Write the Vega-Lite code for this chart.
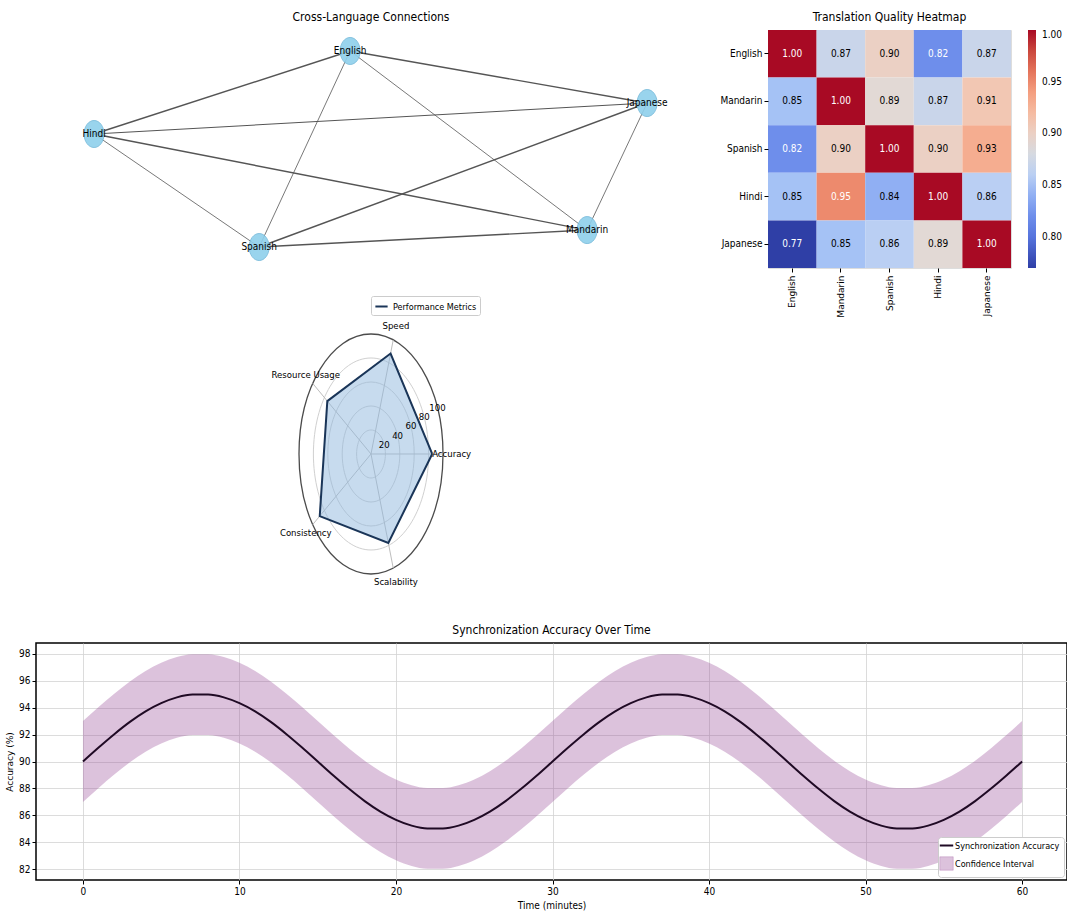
{
"$schema":"https://vega.github.io/schema/vega-lite/v6.json",
"background":"white",
"padding":{"left":4,"top":10,"right":0,"bottom":0},
"bounds":"flush",
"spacing":271,
"resolve":{"scale":{"color":"independent","fill":"independent","stroke":"independent","size":"independent","strokeWidth":"independent"}},
"config":{
 "font":"Liberation Sans Narrow, DejaVu Sans Condensed, Roboto Condensed, sans-serif",
 "title":{"fontSize":12,"fontWeight":"normal","offset":6,"color":"#000"},
 "axis":{"labelFontSize":10,"titleFontSize":10,"titleFontWeight":"normal","labelColor":"#000","titleColor":"#000","tickColor":"#000","domain":false,"gridColor":"#d3d3d3","gridWidth":0.8,"tickSize":4,"labelPadding":2,"labelOverlap":false},
 "legend":{"labelFontSize":9,"labelColor":"#000"}
},
"vconcat":[
 {"hconcat":[
  {"width":670,"height":238,
   "title":{"text":"Cross-Language Connections"},
   "view":{"stroke":null},
   "layer":[
    {"data":{"values":[
      {"s":"English","t":"Hindi","w":2},{"s":"English","t":"Japanese","w":2},{"s":"English","t":"Spanish","w":1},{"s":"English","t":"Mandarin","w":1},
      {"s":"Hindi","t":"Japanese","w":1.5},{"s":"Hindi","t":"Spanish","w":1},{"s":"Hindi","t":"Mandarin","w":2},
      {"s":"Spanish","t":"Japanese","w":2},{"s":"Spanish","t":"Mandarin","w":2},{"s":"Mandarin","t":"Japanese","w":1}]},
     "transform":[
      {"lookup":"s","from":{"data":{"values":[{"id":"English","x":-0.074,"y":1.0},{"id":"Mandarin","x":0.783,"y":-0.827},{"id":"Spanish","x":-0.403,"y":-1.0},{"id":"Hindi","x":-1.0,"y":0.153},{"id":"Japanese","x":1.0,"y":0.469}]},"key":"id","fields":["x","y"]},"as":["sx","sy"]},
      {"lookup":"t","from":{"data":{"values":[{"id":"English","x":-0.074,"y":1.0},{"id":"Mandarin","x":0.783,"y":-0.827},{"id":"Spanish","x":-0.403,"y":-1.0},{"id":"Hindi","x":-1.0,"y":0.153},{"id":"Japanese","x":1.0,"y":0.469}]},"key":"id","fields":["x","y"]},"as":["tx","ty"]}
     ],
     "mark":{"type":"rule","color":"#555555"},
     "encoding":{
      "x":{"field":"sx","type":"quantitative","scale":{"domain":[-1.21,1.213],"nice":false,"zero":false},"axis":null},
      "y":{"field":"sy","type":"quantitative","scale":{"domain":[-1.214,1.214],"nice":false,"zero":false},"axis":null},
      "x2":{"field":"tx"},"y2":{"field":"ty"},
      "strokeWidth":{"field":"w","type":"quantitative","scale":{"domain":[1,2],"range":[0.8,1.4]},"legend":null}}},
    {"data":{"values":[{"id":"English","x":-0.074,"y":1.0},{"id":"Mandarin","x":0.783,"y":-0.827},{"id":"Spanish","x":-0.403,"y":-1.0},{"id":"Hindi","x":-1.0,"y":0.153},{"id":"Japanese","x":1.0,"y":0.469}]},
     "mark":{"type":"point","shape":"M -0.74,0 A 0.74,1 0 1 0 0.74,0 A 0.74,1 0 1 0 -0.74,0 Z","filled":true,"fill":"#8fd0ec","opacity":0.9,"size":729,"stroke":"#78bcdc","strokeWidth":1},
     "encoding":{
      "x":{"field":"x","type":"quantitative","scale":{"domain":[-1.21,1.213],"nice":false,"zero":false},"axis":null},
      "y":{"field":"y","type":"quantitative","scale":{"domain":[-1.214,1.214],"nice":false,"zero":false},"axis":null}}},
    {"data":{"values":[{"id":"English","x":-0.074,"y":1.0},{"id":"Mandarin","x":0.783,"y":-0.827},{"id":"Spanish","x":-0.403,"y":-1.0},{"id":"Hindi","x":-1.0,"y":0.153},{"id":"Japanese","x":1.0,"y":0.469}]},
     "mark":{"type":"text","fontSize":10,"color":"#000"},
     "encoding":{
      "x":{"field":"x","type":"quantitative","scale":{"domain":[-1.21,1.213],"nice":false,"zero":false},"axis":null},
      "y":{"field":"y","type":"quantitative","scale":{"domain":[-1.214,1.214],"nice":false,"zero":false},"axis":null},
      "text":{"field":"id"}}}
   ]},
  {"width":243,"height":238,
   "title":"Translation Quality Heatmap",
   "data":{"values":[
    {"row":"English","col":"English","v":1.00},{"row":"English","col":"Mandarin","v":0.87},{"row":"English","col":"Spanish","v":0.90},{"row":"English","col":"Hindi","v":0.82},{"row":"English","col":"Japanese","v":0.87},
    {"row":"Mandarin","col":"English","v":0.85},{"row":"Mandarin","col":"Mandarin","v":1.00},{"row":"Mandarin","col":"Spanish","v":0.89},{"row":"Mandarin","col":"Hindi","v":0.87},{"row":"Mandarin","col":"Japanese","v":0.91},
    {"row":"Spanish","col":"English","v":0.82},{"row":"Spanish","col":"Mandarin","v":0.90},{"row":"Spanish","col":"Spanish","v":1.00},{"row":"Spanish","col":"Hindi","v":0.90},{"row":"Spanish","col":"Japanese","v":0.93},
    {"row":"Hindi","col":"English","v":0.85},{"row":"Hindi","col":"Mandarin","v":0.95},{"row":"Hindi","col":"Spanish","v":0.84},{"row":"Hindi","col":"Hindi","v":1.00},{"row":"Hindi","col":"Japanese","v":0.86},
    {"row":"Japanese","col":"English","v":0.77},{"row":"Japanese","col":"Mandarin","v":0.85},{"row":"Japanese","col":"Spanish","v":0.86},{"row":"Japanese","col":"Hindi","v":0.89},{"row":"Japanese","col":"Japanese","v":1.00}]},
   "encoding":{
    "x":{"field":"col","type":"nominal","sort":["English","Mandarin","Spanish","Hindi","Japanese"],"scale":{"paddingInner":0,"paddingOuter":0},
         "axis":{"title":null,"labelAngle":-90,"labelFont":"DejaVu Sans","labelFontSize":9,"ticks":true,"tickSize":4,"bandPosition":0.5,"labelPadding":3}},
    "y":{"field":"row","type":"nominal","sort":["English","Mandarin","Spanish","Hindi","Japanese"],"scale":{"paddingInner":0,"paddingOuter":0},
         "axis":{"title":null,"ticks":true,"tickSize":4,"bandPosition":0.5,"labelPadding":2}}},
   "layer":[
    {"mark":"rect",
     "encoding":{"color":{"field":"v","type":"quantitative",
       "scale":{"domain":[0.77,0.79875,0.8275,0.85625,0.885,0.91375,0.9425,0.97125,1.0],
                "range":["#2f3fa6","#5472dc","#7898f0","#b4cdf6","#dddddd","#f5c4ad","#f49a7b","#d95a49","#a80a24"]},
       "legend":{"title":null,"orient":"right","offset":16,"gradientLength":238,"gradientThickness":8,"values":[0.8,0.85,0.9,0.95,1.0],"format":".2f","labelFontSize":10,"gradientStrokeWidth":0,"padding":0,"labelOffset":6}}}},
    {"mark":{"type":"text","fontSize":10},
     "encoding":{"text":{"field":"v","type":"quantitative","format":".2f"},
       "color":{"condition":{"test":"datum.v >= 0.94 || datum.v <= 0.825","value":"#ffffff"},"value":"#000000"}}}
   ]}
 ],"spacing":62,"bounds":"flush"},
 {"width":670,"height":71,
  "view":{"stroke":null},
  "layer":[
   {"data":{"values":[{"r":20},{"r":40},{"r":60},{"r":80},{"r":100}]},
    "mark":{"type":"point","shape":"M -0.6,0 A 0.6,1 0 1 0 0.6,0 A 0.6,1 0 1 0 -0.6,0 Z","filled":false},
    "encoding":{
     "x":{"datum":0,"type":"quantitative","scale":{"domain":[-465.3,465.3],"nice":false,"zero":false},"axis":null},
     "y":{"datum":0,"type":"quantitative","scale":{"domain":[68.33,127.5],"nice":false,"zero":false},"axis":null},
     "size":{"field":"r","type":"quantitative","scale":{"type":"pow","exponent":2,"domain":[0,100],"range":[0,57600]},"legend":null},
     "stroke":{"condition":{"test":"datum.r == 100","value":"#000000"},"value":"#bdbdbd"},
     "strokeWidth":{"condition":{"test":"datum.r == 100","value":1.3},"value":1}}},
   {"data":{"values":[{"metric":"Accuracy","order":0},{"metric":"Speed","order":1},{"metric":"Resource Usage","order":2},{"metric":"Consistency","order":3},{"metric":"Scalability","order":4}]},
    "transform":[{"calculate":"datum.order*2*PI/5","as":"a"},{"calculate":"100*cos(datum.a)","as":"sx"},{"calculate":"100*sin(datum.a)","as":"sy"}],
    "mark":{"type":"rule","color":"#bdbdbd","strokeWidth":1},
    "encoding":{
     "x":{"field":"sx","type":"quantitative","scale":{"domain":[-465.3,465.3],"nice":false,"zero":false},"axis":null},
     "y":{"field":"sy","type":"quantitative","scale":{"domain":[68.33,127.5],"nice":false,"zero":false},"axis":null},
     "x2":{"datum":0},"y2":{"datum":0}}},
   {"data":{"values":[{"metric":"Accuracy","order":0,"value":85},{"metric":"Speed","order":1,"value":88},{"metric":"Resource Usage","order":2,"value":75},{"metric":"Consistency","order":3,"value":88},{"metric":"Scalability","order":4,"value":78},{"metric":"Accuracy","order":5,"value":85}]},
    "transform":[{"calculate":"datum.order*2*PI/5","as":"a"},{"calculate":"datum.value*cos(datum.a)","as":"px"},{"calculate":"datum.value*sin(datum.a)","as":"py"}],
    "mark":{"type":"line","fill":"#8fb8de","fillOpacity":0.5,"strokeWidth":2},
    "encoding":{
     "x":{"field":"px","type":"quantitative","scale":{"domain":[-465.3,465.3],"nice":false,"zero":false},"axis":null},
     "y":{"field":"py","type":"quantitative","scale":{"domain":[68.33,127.5],"nice":false,"zero":false},"axis":null},
     "order":{"field":"order","type":"quantitative"},
     "stroke":{"datum":"Performance Metrics","scale":{"range":["#1a3558"]},
       "legend":{"orient":"none","legendX":335,"legendY":-5,"title":null,"symbolType":"stroke","symbolStrokeWidth":2,"symbolSize":150,"labelFontSize":9,"padding":3,"strokeColor":"#cccccc","fillColor":"#ffffff","cornerRadius":2}}}},
   {"data":{"values":[{"metric":"Accuracy","order":0},{"metric":"Speed","order":1},{"metric":"Resource Usage","order":2},{"metric":"Consistency","order":3},{"metric":"Scalability","order":4}]},
    "transform":[{"calculate":"datum.order*2*PI/5","as":"a"},{"calculate":"112*cos(datum.a)","as":"lx"},{"calculate":"112*sin(datum.a)","as":"ly"}],
    "mark":{"type":"text","fontSize":9.5,"color":"#000"},
    "encoding":{
     "x":{"field":"lx","type":"quantitative","scale":{"domain":[-465.3,465.3],"nice":false,"zero":false},"axis":null},
     "y":{"field":"ly","type":"quantitative","scale":{"domain":[68.33,127.5],"nice":false,"zero":false},"axis":null},
     "text":{"field":"metric"}}},
   {"data":{"values":[{"v":20},{"v":40},{"v":60},{"v":80},{"v":100}]},
    "transform":[{"calculate":"datum.v*cos(PI/8)","as":"tx"},{"calculate":"datum.v*sin(PI/8)","as":"ty"}],
    "mark":{"type":"text","fontSize":9.5,"color":"#000"},
    "encoding":{
     "x":{"field":"tx","type":"quantitative","scale":{"domain":[-465.3,465.3],"nice":false,"zero":false},"axis":null},
     "y":{"field":"ty","type":"quantitative","scale":{"domain":[68.33,127.5],"nice":false,"zero":false},"axis":null},
     "text":{"field":"v"}}}
  ]},
 {"width":1031,"height":237,
  "title":"Synchronization Accuracy Over Time",
  "view":{"stroke":"#000000","strokeWidth":1.5},
  "data":{"values":[
   {"t":0,"acc":90.00,"lo":87.00,"hi":93.00},{"t":1,"acc":91.04,"lo":88.04,"hi":94.04},{"t":2,"acc":92.03,"lo":89.03,"hi":95.03},{"t":3,"acc":92.94,"lo":89.94,"hi":95.94},{"t":4,"acc":93.72,"lo":90.72,"hi":96.72},
   {"t":5,"acc":94.33,"lo":91.33,"hi":97.33},{"t":6,"acc":94.76,"lo":91.76,"hi":97.76},{"t":7,"acc":94.97,"lo":91.97,"hi":97.97},{"t":8,"acc":94.97,"lo":91.97,"hi":97.97},{"t":9,"acc":94.76,"lo":91.76,"hi":97.76},
   {"t":10,"acc":94.33,"lo":91.33,"hi":97.33},{"t":11,"acc":93.72,"lo":90.72,"hi":96.72},{"t":12,"acc":92.94,"lo":89.94,"hi":95.94},{"t":13,"acc":92.03,"lo":89.03,"hi":95.03},{"t":14,"acc":91.04,"lo":88.04,"hi":94.04},
   {"t":15,"acc":90.00,"lo":87.00,"hi":93.00},{"t":16,"acc":88.96,"lo":85.96,"hi":91.96},{"t":17,"acc":87.97,"lo":84.97,"hi":90.97},{"t":18,"acc":87.06,"lo":84.06,"hi":90.06},{"t":19,"acc":86.28,"lo":83.28,"hi":89.28},
   {"t":20,"acc":85.67,"lo":82.67,"hi":88.67},{"t":21,"acc":85.24,"lo":82.24,"hi":88.24},{"t":22,"acc":85.03,"lo":82.03,"hi":88.03},{"t":23,"acc":85.03,"lo":82.03,"hi":88.03},{"t":24,"acc":85.24,"lo":82.24,"hi":88.24},
   {"t":25,"acc":85.67,"lo":82.67,"hi":88.67},{"t":26,"acc":86.28,"lo":83.28,"hi":89.28},{"t":27,"acc":87.06,"lo":84.06,"hi":90.06},{"t":28,"acc":87.97,"lo":84.97,"hi":90.97},{"t":29,"acc":88.96,"lo":85.96,"hi":91.96},
   {"t":30,"acc":90.00,"lo":87.00,"hi":93.00},{"t":31,"acc":91.04,"lo":88.04,"hi":94.04},{"t":32,"acc":92.03,"lo":89.03,"hi":95.03},{"t":33,"acc":92.94,"lo":89.94,"hi":95.94},{"t":34,"acc":93.72,"lo":90.72,"hi":96.72},
   {"t":35,"acc":94.33,"lo":91.33,"hi":97.33},{"t":36,"acc":94.76,"lo":91.76,"hi":97.76},{"t":37,"acc":94.97,"lo":91.97,"hi":97.97},{"t":38,"acc":94.97,"lo":91.97,"hi":97.97},{"t":39,"acc":94.76,"lo":91.76,"hi":97.76},
   {"t":40,"acc":94.33,"lo":91.33,"hi":97.33},{"t":41,"acc":93.72,"lo":90.72,"hi":96.72},{"t":42,"acc":92.94,"lo":89.94,"hi":95.94},{"t":43,"acc":92.03,"lo":89.03,"hi":95.03},{"t":44,"acc":91.04,"lo":88.04,"hi":94.04},
   {"t":45,"acc":90.00,"lo":87.00,"hi":93.00},{"t":46,"acc":88.96,"lo":85.96,"hi":91.96},{"t":47,"acc":87.97,"lo":84.97,"hi":90.97},{"t":48,"acc":87.06,"lo":84.06,"hi":90.06},{"t":49,"acc":86.28,"lo":83.28,"hi":89.28},
   {"t":50,"acc":85.67,"lo":82.67,"hi":88.67},{"t":51,"acc":85.24,"lo":82.24,"hi":88.24},{"t":52,"acc":85.03,"lo":82.03,"hi":88.03},{"t":53,"acc":85.03,"lo":82.03,"hi":88.03},{"t":54,"acc":85.24,"lo":82.24,"hi":88.24},
   {"t":55,"acc":85.67,"lo":82.67,"hi":88.67},{"t":56,"acc":86.28,"lo":83.28,"hi":89.28},{"t":57,"acc":87.06,"lo":84.06,"hi":90.06},{"t":58,"acc":87.97,"lo":84.97,"hi":90.97},{"t":59,"acc":88.96,"lo":85.96,"hi":91.96},
   {"t":60,"acc":90.00,"lo":87.00,"hi":93.00}]},
  "encoding":{
   "x":{"field":"t","type":"quantitative","scale":{"domain":[-3,62.87],"nice":false,"zero":false},
        "axis":{"values":[0,10,20,30,40,50,60],"title":"Time (minutes)","grid":true,"titlePadding":4}}},
  "layer":[
   {"mark":{"type":"area","interpolate":"monotone","fillOpacity":0.35},
    "encoding":{
     "y":{"field":"lo","type":"quantitative","scale":{"domain":[81.2,98.8],"nice":false,"zero":false},
          "axis":{"values":[82,84,86,88,90,92,94,96,98],"title":"Accuracy (%)","titleFont":"DejaVu Sans","titleFontSize":9,"grid":true,"titlePadding":4}},
     "y2":{"field":"hi"},
     "color":{"datum":"Confidence Interval"}}},
   {"mark":{"type":"line","interpolate":"monotone","strokeWidth":2},
    "encoding":{
     "y":{"field":"acc","type":"quantitative","scale":{"domain":[81.2,98.8],"nice":false,"zero":false},
          "axis":{"values":[82,84,86,88,90,92,94,96,98],"title":"Accuracy (%)","titleFont":"DejaVu Sans","titleFontSize":9,"grid":true,"titlePadding":4}},
     "color":{"datum":"Synchronization Accuracy",
       "scale":{"domain":["Synchronization Accuracy","Confidence Interval"],"range":["#1f0a24","#9b4f9b"]},
       "legend":{"title":null,"orient":"bottom-right","offset":3,"fillColor":"#ffffff","strokeColor":"#cccccc","padding":4,"cornerRadius":3,"labelFontSize":9,"symbolSize":180,"rowPadding":3,
        "encode":{"symbols":{"update":{
          "shape":{"signal":"datum.value === 'Confidence Interval' ? 'square' : 'stroke'"},
          "fillOpacity":{"signal":"datum.value === 'Confidence Interval' ? 0.35 : 1"},
          "strokeOpacity":{"signal":"datum.value === 'Confidence Interval' ? 0.3 : 1"},
          "strokeWidth":{"signal":"datum.value === 'Confidence Interval' ? 1 : 2"}}}}}}}}
  ]}
]
}
